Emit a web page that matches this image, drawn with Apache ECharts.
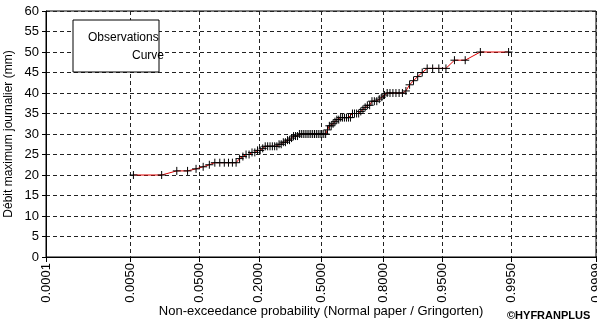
<!DOCTYPE html>
<html>
<head>
<meta charset="utf-8">
<script src="https://cdn.jsdelivr.net/npm/echarts@6/dist/echarts.min.js"></script>
<style>
html, body { margin: 0; padding: 0; background: #fff; }
#chart { width: 597px; height: 322px; }
</style>
</head>
<body>
<div id="chart"></div>
<script>
// probability ticks on the normal paper
const tickProbs = ['0.0001', '0.0050', '0.0500', '0.2000', '0.5000', '0.8000', '0.9500', '0.9950', '0.9999'];
// sorted observations (mm)
const observed = [
	20, 20, 21, 21, 21.5, 22, 22.5, 23, 23, 23,
	23, 23, 23, 24, 24.5, 25, 25, 25.5, 25.5, 26,
	26, 26.5, 27, 27, 27, 27, 27, 27, 27.5, 27.5,
	28, 28, 28.5, 28.5, 29, 29.5, 29.5, 29.5, 30, 30,
	30, 30, 30, 30, 30, 30, 30, 30, 30, 30,
	30, 30, 30, 31, 32, 32, 32.5, 33, 33.5, 33.5,
	34, 34, 34, 34, 34, 34, 35, 35, 35, 35,
	35.5, 36, 36.5, 37, 37, 38, 38, 38, 38.5, 39,
	39.5, 40, 40, 40, 40, 40, 40, 40.5, 42, 43,
	44, 45, 46, 46, 46, 46, 48, 48, 50, 50
];

// inverse standard normal (Acklam)
function normInv(p) {
	const a = [-3.969683028665376e+01, 2.209460984245205e+02, -2.759285104469687e+02, 1.383577518672690e+02, -3.066479806614716e+01, 2.506628277459239e+00];
	const b = [-5.447609879822406e+01, 1.615858368580409e+02, -1.556989798598866e+02, 6.680131188771972e+01, -1.328068155288572e+01];
	const c = [-7.784894002430293e-03, -3.223964580411365e-01, -2.400758277161838e+00, -2.549671010243000e+00, 4.374664141464968e+00, 2.938163982698783e+00];
	const d = [7.784695709041462e-03, 3.224671290700398e-01, 2.445134137142996e+00, 3.754408661907416e+00];
	const pl = 0.02425;
	let q, r;
	if (p < pl) {
		q = Math.sqrt(-2 * Math.log(p));
		return (((((c[0]*q+c[1])*q+c[2])*q+c[3])*q+c[4])*q+c[5]) / ((((d[0]*q+d[1])*q+d[2])*q+d[3])*q+1);
	}
	if (p > 1 - pl) {
		q = Math.sqrt(-2 * Math.log(1 - p));
		return -(((((c[0]*q+c[1])*q+c[2])*q+c[3])*q+c[4])*q+c[5]) / ((((d[0]*q+d[1])*q+d[2])*q+d[3])*q+1);
	}
	q = p - 0.5;
	r = q * q;
	return (((((a[0]*r+a[1])*r+a[2])*r+a[3])*r+a[4])*r+a[5])*q / (((((b[0]*r+b[1])*r+b[2])*r+b[3])*r+b[4])*r+1);
}

const n = observed.length;
// Gringorten plotting positions
const points = observed.map((v, i) => [normInv((i + 1 - 0.44) / (n + 0.12)), v]);
const tickZ = tickProbs.map(p => normInv(+p));

const chart = echarts.init(document.getElementById('chart'));
const dash = { color: '#222', width: 1, type: [4, 3] };
const font = 'Liberation Sans, Arial, sans-serif';

chart.setOption({
	animation: false,
	grid: {
		left: 46, top: 11, right: 1, bottom: 65,
		containLabel: false, outerBoundsMode: 'none',
		show: true, borderColor: '#000', borderWidth: 1, backgroundColor: 'transparent'
	},
	xAxis: {
		type: 'value',
		min: tickZ[0],
		max: tickZ[tickZ.length - 1],
		name: 'Non-exceedance probability (Normal paper / Gringorten)',
		nameLocation: 'middle',
		nameGap: 48,
		nameMoveOverlap: false,
		nameTextStyle: { fontFamily: font, fontSize: 13, color: '#000' },
		axisLine: { onZero: false, lineStyle: { color: '#000', width: 1 } },
		axisTick: { show: true, length: 5, customValues: tickZ, lineStyle: { color: '#000' } },
		axisLabel: {
			customValues: tickZ,
			rotate: 90,
			margin: 6,
			fontFamily: font,
			fontSize: 13,
			color: '#000',
			formatter: function (val) {
				let best = 0;
				tickZ.forEach((z, k) => { if (Math.abs(z - val) < Math.abs(tickZ[best] - val)) best = k; });
				return tickProbs[best];
			}
		},
		splitLine: { show: true, lineStyle: dash }
	},
	yAxis: {
		type: 'value',
		min: 0,
		max: 60,
		interval: 5,
		name: 'Débit maximum journalier (mm)',
		nameLocation: 'middle',
		nameGap: 31,
		nameMoveOverlap: false,
		nameTextStyle: { fontFamily: font, fontSize: 12, color: '#000' },
		axisLine: { show: true, onZero: false, lineStyle: { color: '#000', width: 1 } },
		axisTick: { show: true, length: 4, lineStyle: { color: '#000' } },
		axisLabel: { margin: 7, fontFamily: font, fontSize: 13, color: '#000' },
		splitLine: { show: true, lineStyle: dash }
	},
	series: [{
		type: 'line',
		data: points,
		showAllSymbol: true,
		symbol: 'path://M5,0 L5,10 M0,5 L10,5',
		symbolSize: 8,
		itemStyle: { color: 'rgba(0,0,0,0)', borderColor: '#000', borderWidth: 1 },
		lineStyle: { color: '#e00000', width: 1 },
		z: 3
	}],
	graphic: [
		{
			type: 'rect',
			shape: { x: 73, y: 20, width: 86, height: 52 },
			style: { fill: '#fff', stroke: '#000', lineWidth: 1 },
			z: 10
		},
		{
			type: 'text',
			x: 88, y: 38,
			style: { text: 'Observations', font: '12px ' + font, fill: '#000', textVerticalAlign: 'middle' },
			z: 11
		},
		{
			type: 'text',
			x: 164, y: 56,
			style: { text: 'Curve', font: '12px ' + font, fill: '#000', textAlign: 'right', textVerticalAlign: 'middle' },
			z: 11
		},
		{
			type: 'text',
			x: 507, y: 316,
			style: { text: '©HYFRANPLUS', font: 'bold 11px ' + font, fill: '#000', textVerticalAlign: 'middle' },
			z: 11
		}
	]
});
</script>
</body>
</html>
